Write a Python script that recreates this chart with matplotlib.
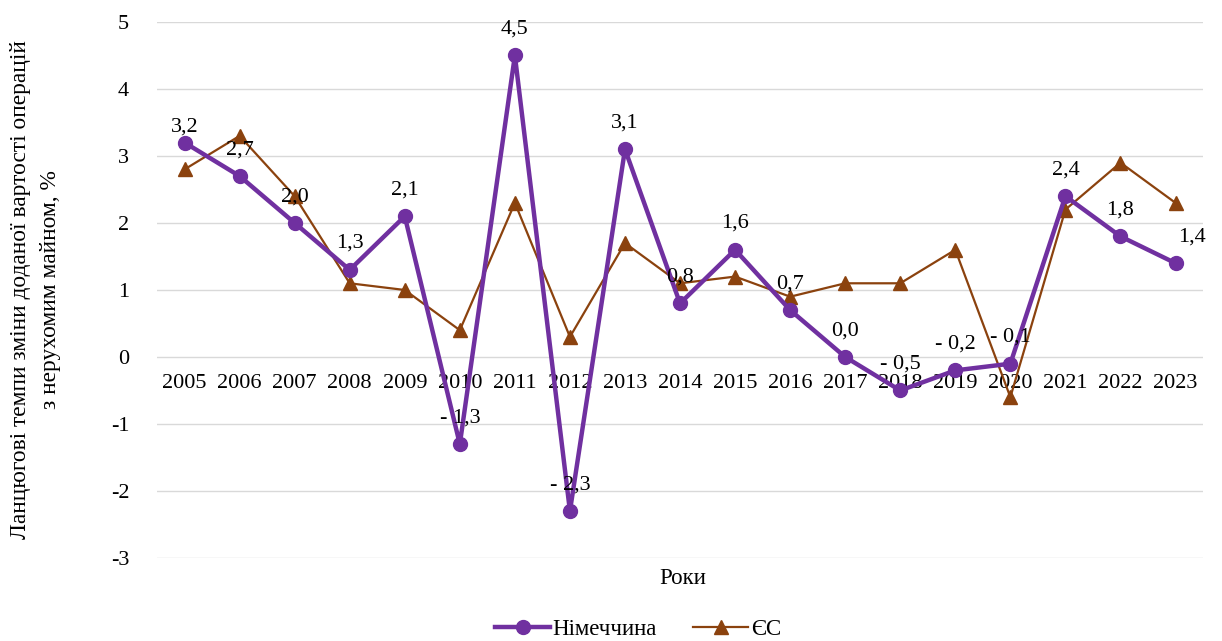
import matplotlib.pyplot as plt
import numpy as np

years = [str(y) for y in range(2005, 2024)]
germany = [3.2, 2.7, 2.0, 1.3, 2.1, -1.3, 4.5, -2.3, 3.1, 0.8, 1.6, 0.7,
           0.0, -0.5, -0.2, -0.1, 2.4, 1.8, 1.4]
eu = [2.8, 3.3, 2.4, 1.1, 1.0, 0.4, 2.3, 0.3, 1.7, 1.1, 1.2, 0.9,
      1.1, 1.1, 1.6, -0.6, 2.2, 2.9, 2.3]

purple = '#7030A0'
brown = '#8B420E'
fs = 16

plt.rcParams['font.family'] = ['Liberation Serif', 'DejaVu Serif']

fig = plt.figure(figsize=(12.22, 6.41), dpi=100)
ax = fig.add_axes([0.1285, 0.1295, 0.856, 0.8362])

x = np.arange(len(years))
ax.plot(x, eu, color=brown, lw=1.6, marker='^', ms=10, label='ЄС', zorder=3)
ax.plot(x, germany, color=purple, lw=3.2, marker='o', ms=10, label='Німеччина', zorder=4)


def fmt(v):
    s = f'{abs(v):.1f}'.replace('.', ',')
    return ('- ' + s) if v < 0 else s


for xi, v in zip(x, germany):
    dx, dy = 0, 19
    if xi == 0:
        dy = 11
    if xi == len(x) - 1:
        dx = 12
    ax.annotate(fmt(v), (xi, v), xytext=(dx, dy), textcoords='offset points',
                ha='center', va='center', fontsize=fs, color='black', zorder=5)

ax.set_xlim(-0.5, len(x) - 0.5)
ax.set_ylim(-3, 5)
ax.set_yticks(range(-3, 6))
ax.set_yticklabels([str(t) for t in range(-3, 6)], fontsize=fs)
ax.set_xticks([])
for xi, yr in zip(x, years):
    ax.text(xi, -0.4, yr, ha='center', va='center', fontsize=fs, zorder=2)

ax.grid(axis='y', color='#d9d9d9', lw=1)
ax.set_axisbelow(True)
for s in ax.spines.values():
    s.set_visible(False)
ax.tick_params(axis='y', length=0, pad=20)

ax.set_ylabel('Ланцюгові темпи зміни доданої вартості операцій\nз нерухомим майном, %',
              fontsize=16.8, labelpad=36, linespacing=1.55)
fig.text(0.559, 0.098, 'Роки', ha='center', va='center', fontsize=16.5)

handles, labels = ax.get_legend_handles_labels()
fig.legend(handles[::-1], labels[::-1], loc='center', bbox_to_anchor=(0.522, 0.018),
           ncol=2, frameon=False, fontsize=16.5, handlelength=2.4, columnspacing=1.6,
           handletextpad=0.1)

fig.savefig('out.png', dpi=100)
